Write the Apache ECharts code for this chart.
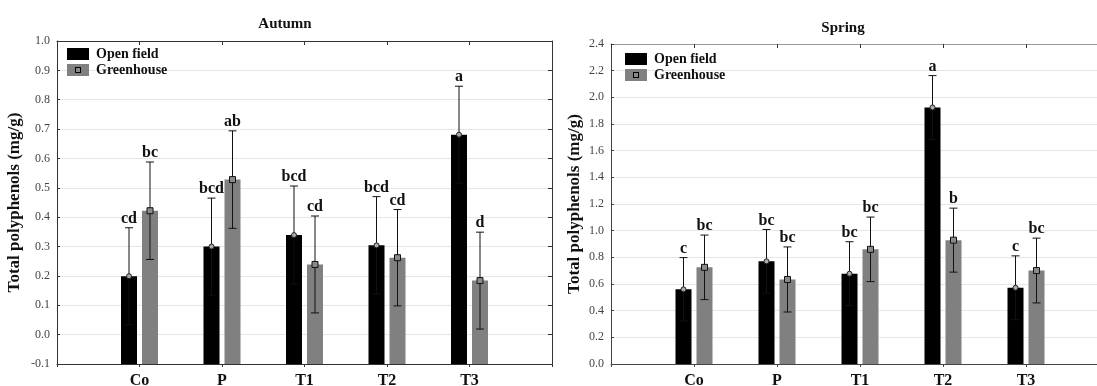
<!DOCTYPE html>
<html>
<head>
<meta charset="utf-8">
<title>Total polyphenols - Autumn / Spring</title>
<script src="https://cdn.jsdelivr.net/npm/echarts@6/dist/echarts.min.js"></script>
<style>
  html, body { margin: 0; padding: 0; background: #fff; }
  #main { width: 1097px; height: 386px; }
</style>
</head>
<body>
<div id="main"></div>
<script>
// categories (treatments)
var categories = ['Co', 'P', 'T1', 'T2', 'T3'];

// Autumn: means, standard errors, letters
var autumnOpen = [0.199, 0.300, 0.339, 0.304, 0.681];
var autumnOpenErr = [0.165, 0.165, 0.167, 0.166, 0.165];
var autumnOpenLetters = ['cd', 'bcd', 'bcd', 'bcd', 'a'];
var autumnGreen = [0.422, 0.528, 0.239, 0.262, 0.184];
var autumnGreenErr = [0.166, 0.166, 0.165, 0.164, 0.165];
var autumnGreenLetters = ['bc', 'ab', 'cd', 'cd', 'd'];

// Spring
var springOpen = [0.560, 0.770, 0.677, 1.924, 0.572];
var springOpenErr = [0.238, 0.239, 0.240, 0.239, 0.239];
var springOpenLetters = ['c', 'bc', 'bc', 'a', 'c'];
var springGreen = [0.725, 0.634, 0.860, 0.929, 0.701];
var springGreenErr = [0.242, 0.244, 0.242, 0.240, 0.243];
var springGreenLetters = ['bc', 'bc', 'bc', 'b', 'bc'];

var SERIF = '"Liberation Serif", "Times New Roman", serif';
var axisCats = [''].concat(categories).concat(['']);

// gray legend icon with the little square marker
var ghIcon = 'image://data:image/svg+xml;utf8,' + encodeURIComponent(
  '<svg xmlns="http://www.w3.org/2000/svg" width="22" height="12">' +
  '<rect x="0" y="0" width="22" height="12" fill="#808080"/>' +
  '<rect x="8.5" y="3.5" width="5" height="5" fill="#8a8a8a" stroke="#000" stroke-width="1"/></svg>');

// one bar series with error bars, marker and letter
function barSeries(name, grid, means, errs, letters, yMin, offset, color, marker) {
  var data = [];
  for (var i = 0; i < means.length; i++) {
    data.push([i + 1, means[i], errs[i]]);
  }
  return {
    name: name,
    type: 'custom',
    xAxisIndex: grid * 2,
    yAxisIndex: grid * 2,
    itemStyle: { color: color },
    data: data,
    renderItem: function (params, api) {
      var idx = api.value(0), m = api.value(1), e = api.value(2);
      var base = api.coord([idx, yMin]);
      var p = api.coord([idx, m]);
      var hi = api.coord([idx, m + e]);
      var lo = api.coord([idx, m - e]);
      var cx = p[0] + offset;
      var kids = [
        { type: 'rect', shape: { x: cx - 8, y: p[1], width: 16, height: base[1] - p[1] },
          style: { fill: color } },
        { type: 'line', shape: { x1: cx, y1: hi[1], x2: cx, y2: lo[1] },
          style: { stroke: '#111', lineWidth: 1 } },
        { type: 'line', shape: { x1: cx - 4, y1: hi[1], x2: cx + 4, y2: hi[1] },
          style: { stroke: '#111', lineWidth: 1 } },
        { type: 'line', shape: { x1: cx - 4, y1: lo[1], x2: cx + 4, y2: lo[1] },
          style: { stroke: '#111', lineWidth: 1 } }
      ];
      if (marker === 'circle') {
        kids.push({ type: 'circle', shape: { cx: cx, cy: p[1], r: 2.5 },
          style: { fill: '#aaa', stroke: '#222', lineWidth: 1 } });
      } else {
        kids.push({ type: 'rect', shape: { x: cx - 3, y: p[1] - 3, width: 6, height: 6 },
          style: { fill: '#8a8a8a', stroke: '#111', lineWidth: 1 } });
      }
      kids.push({ type: 'text',
        style: { text: letters[params.dataIndex], x: cx, y: hi[1] - 1,
          textAlign: 'center', textVerticalAlign: 'bottom',
          font: 'bold 16px ' + SERIF, fill: '#111' } });
      return { type: 'group', children: kids };
    }
  };
}

function xAxes(grid, lineColor, topColor) {
  return [
    { type: 'category', gridIndex: grid, data: axisCats, boundaryGap: false,
      axisLine: { onZero: false, lineStyle: { color: lineColor } },
      axisTick: { interval: 0, length: 3, lineStyle: { color: lineColor } },
      axisLabel: { interval: 0, margin: 9, color: '#111', fontFamily: SERIF,
        fontWeight: 'bold', fontSize: 16 } },
    { type: 'category', gridIndex: grid, position: 'top', data: axisCats, boundaryGap: false,
      axisLine: { onZero: false, lineStyle: { color: topColor } },
      axisTick: { interval: 0, inside: true, length: 4, lineStyle: { color: '#333' } },
      axisLabel: { show: false } }
  ];
}

function yAxes(grid, min, max, step, gap, lineColor) {
  return [
    { type: 'value', gridIndex: grid, min: min, max: max, interval: step,
      name: 'Total polyphenols (mg/g)', nameLocation: 'middle', nameGap: gap,
      nameTextStyle: { fontFamily: SERIF, fontWeight: 'bold', fontSize: 17, color: '#111' },
      axisLine: { show: true, onZero: false, lineStyle: { color: lineColor } },
      axisTick: { show: true, inside: true, length: 3, lineStyle: { color: lineColor } },
      axisLabel: { margin: 7, color: '#444', fontFamily: SERIF, fontSize: 12,
        formatter: function (v) { return v.toFixed(1); } },
      splitLine: { lineStyle: { color: '#e6e6e6' } } },
    { type: 'value', gridIndex: grid, position: 'right', min: min, max: max, interval: step,
      axisLine: { show: true, onZero: false, lineStyle: { color: lineColor } },
      axisTick: { show: true, inside: true, length: 4, lineStyle: { color: '#333' } },
      axisLabel: { show: false }, splitLine: { show: false } }
  ];
}

var myChart = echarts.init(document.getElementById('main'));

var option = {
  animation: false,
  backgroundColor: '#fff',
  title: [
    { text: 'Autumn', left: 280, top: 12, textAlign: 'center',
      textStyle: { fontFamily: SERIF, fontWeight: 'bold', fontSize: 15, color: '#111' } },
    { text: 'Spring', left: 838, top: 16, textAlign: 'center',
      textStyle: { fontFamily: SERIF, fontWeight: 'bold', fontSize: 15, color: '#111' } }
  ],
  legend: [
    { orient: 'vertical', left: 67, top: 46, itemWidth: 22, itemHeight: 12, itemGap: 0,
      selectedMode: false, padding: 0,
      textStyle: { fontFamily: SERIF, fontWeight: 'bold', fontSize: 14, lineHeight: 16,
        color: '#111', padding: [0, 0, 0, 2] },
      data: [{ name: 'Open field', icon: 'rect' }, { name: 'Greenhouse', icon: ghIcon }] },
    { orient: 'vertical', left: 625, top: 51, itemWidth: 22, itemHeight: 12, itemGap: 0,
      selectedMode: false, padding: 0,
      textStyle: { fontFamily: SERIF, fontWeight: 'bold', fontSize: 14, lineHeight: 16,
        color: '#111', padding: [0, 0, 0, 2] },
      data: [{ name: 'Open field', icon: 'rect' }, { name: 'Greenhouse', icon: ghIcon }] }
  ],
  grid: [
    { left: 57, top: 41, width: 495, height: 323, outerBoundsMode: 'none' },
    { left: 611, top: 44, width: 498, height: 320, outerBoundsMode: 'none' }
  ],
  xAxis: xAxes(0, '#333', '#333').concat(xAxes(1, '#444', '#999')),
  yAxis: yAxes(0, -0.1, 1.0, 0.1, 34, '#333').concat(yAxes(1, 0, 2.4, 0.2, 28, '#444')),
  series: [
    barSeries('Open field', 0, autumnOpen, autumnOpenErr, autumnOpenLetters, -0.1, -10.5, '#000', 'circle'),
    barSeries('Greenhouse', 0, autumnGreen, autumnGreenErr, autumnGreenLetters, -0.1, 10.5, '#808080', 'square'),
    barSeries('Open field', 1, springOpen, springOpenErr, springOpenLetters, 0, -10.5, '#000', 'circle'),
    barSeries('Greenhouse', 1, springGreen, springGreenErr, springGreenLetters, 0, 10.5, '#808080', 'square')
  ]
};

myChart.setOption(option);
</script>
</body>
</html>
